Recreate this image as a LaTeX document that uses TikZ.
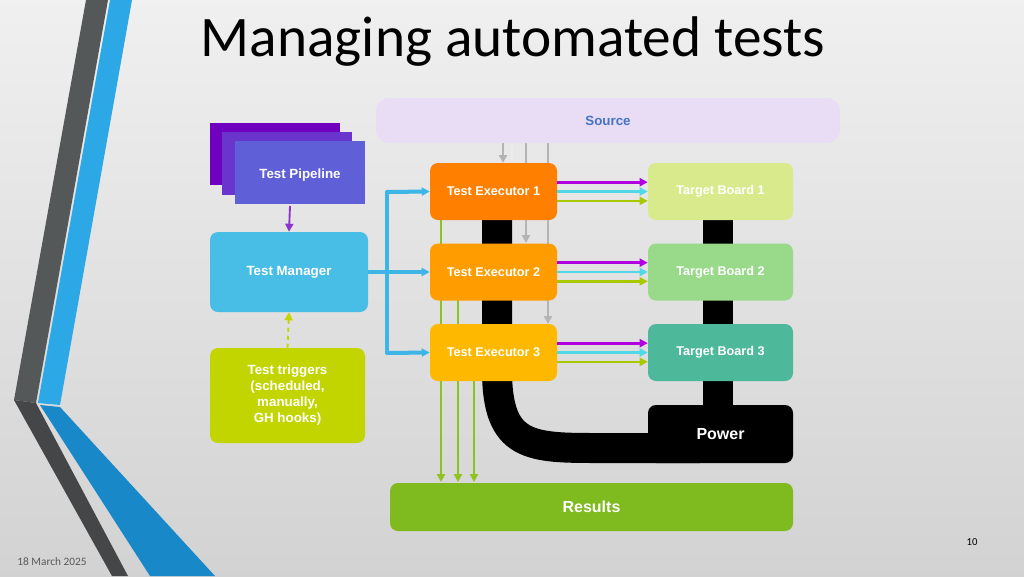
\documentclass[tikz,border=0pt]{standalone}
\usepackage{fontspec}
\setmainfont{Liberation Sans}
\newfontfamily\calib{Carlito}
\usetikzlibrary{arrows.meta}
\definecolor{srcfill}{HTML}{E8DDF5}
\definecolor{srctext}{HTML}{4472C4}
\definecolor{pipeA}{HTML}{7000C0}
\definecolor{pipeB}{HTML}{6A35CC}
\definecolor{pipeC}{HTML}{5F5FD8}
\definecolor{mgr}{HTML}{48BEE6}
\definecolor{trig}{HTML}{C2D500}
\definecolor{exA}{HTML}{FF8000}
\definecolor{exB}{HTML}{FF9C00}
\definecolor{exC}{HTML}{FFB800}
\definecolor{tbA}{HTML}{D9EA8C}
\definecolor{tbB}{HTML}{98D98A}
\definecolor{tbC}{HTML}{4DB89A}
\definecolor{res}{HTML}{7FBA1E}
\definecolor{arP}{HTML}{B000E0}
\definecolor{arC}{HTML}{50D8E8}
\definecolor{arG}{HTML}{A8C800}
\definecolor{arD}{HTML}{8DC21F}
\definecolor{arB}{HTML}{3DB5E6}
\definecolor{arS}{HTML}{B4B4B4}
\definecolor{stripeG}{HTML}{555859}
\definecolor{stripeB}{HTML}{2CA8E6}
\definecolor{stripeB2}{HTML}{1888C8}
\tikzset{
 box/.style={draw=none,rounded corners=6pt,text=white,font=\bfseries,align=center,inner sep=0pt},
 ex/.style={box,minimum width=127*0.75pt,minimum height=57*0.75pt,font=\bfseries\fontsize{9.5}{11}\selectfont},
 tb/.style={box,minimum width=145*0.75pt,minimum height=57*0.75pt,font=\bfseries\fontsize{9.5}{11}\selectfont},
 arr/.style={-{Triangle[length=6pt,width=6pt]},line width=2pt},
}
\begin{document}
\begin{tikzpicture}[x=0.75pt,y=-0.75pt]
\useasboundingbox (0,0) rectangle (1024,576);
\shade[top color=gray!12,bottom color=gray!35] (0,0) rectangle (1024,576);
% stripes
\fill[stripeG] (86,0) -- (108,0) -- (36,403) -- (14,400) -- cycle;
\fill[stripeB] (110,0) -- (132,0) -- (60,405) -- (38,403) -- cycle;
\fill[stripeG!80!black] (14,400) -- (36,403) -- (128,576) -- (112,576) -- cycle;
\fill[stripeB2] (40,405) -- (60,407) -- (215,576) -- (150,576) -- cycle;
% title
\node[font=\calib\fontsize{43}{46}\selectfont] (title) at (513,42) {Managing automated tests};
\node[font=\calib\fontsize{8.5}{10}\selectfont,text=gray!70!black] (date) at (52,562) {18 March 2025};
\node[font=\calib\fontsize{8}{9}\selectfont] (pg) at (972,542) {10};
% faint line
\draw[white!85!gray,line width=1.5pt] (512,88) -- (512,160);
% black power bus
\draw[black,line width=30*0.75pt] (497,220) -- (497,370) .. controls (497,448) and (530,448) .. (600,448) -- (700,448);
\draw[black,line width=30*0.75pt] (718,220) -- (718,420);
% source -> exec (behind nodes)
\coordinate (s1) at (503,143);
\coordinate (s2) at (526,143);
\coordinate (s3) at (548,143);
\draw[arr,arS] (s1) -- (503,163);
\draw[arr,arS] (s2) -- (526,243);
\draw[arr,arS] (s3) -- (548,324);
% exec -> results (behind nodes)
\draw[arr,arD] (441,220) -- (441,482);
\draw[arr,arD] (458,300) -- (458,482);
\draw[arr,arD] (474,381) -- (474,482);
% source
\node[box,fill=srcfill,minimum width=464*0.75pt,minimum height=45*0.75pt,rounded corners=10pt,text=srctext,font=\bfseries] (src) at (608,120.5) {Source};
% pipeline
\fill[pipeA] (210,123) rectangle (340,185);
\fill[pipeB] (222,132) rectangle (352,195);
\node[box,fill=pipeC,rounded corners=0pt,minimum width=130*0.75pt,minimum height=63*0.75pt,anchor=north west] (pipe) at (235,141) {};
\node[font=\bfseries,text=white] (pipet) at (300,175) {Test Pipeline};
\node[box,fill=mgr,minimum width=158*0.75pt,minimum height=80*0.75pt] (mgr) at (289,272) {Test Manager};
\node[box,fill=trig,minimum width=155*0.75pt,minimum height=95*0.75pt] (trig) at (287.5,395.5) {Test triggers\\(scheduled,\\manually,\\GH hooks)};
% executors & targets
\node[ex,fill=exA] (e1) at (493.5,191.5) {Test Executor 1};
\node[ex,fill=exB] (e2) at (493.5,272) {Test Executor 2};
\node[ex,fill=exC] (e3) at (493.5,352.5) {Test Executor 3};
\node[tb,fill=tbA] (t1) at (720.5,191.5) {Target Board 1};
\node[tb,fill=tbB] (t2) at (720.5,272) {Target Board 2};
\node[tb,fill=tbC] (t3) at (720.5,352.5) {Target Board 3};
\node[box,fill=black,minimum width=145*0.75pt,minimum height=58*0.75pt,font=\bfseries\large] (pw) at (720.5,434) {Power};
\node[box,fill=res,minimum width=403*0.75pt,minimum height=48*0.75pt,font=\bfseries\large] (res) at (591.5,507) {Results};
% pipeline -> manager
\draw[arr,pipeA!80!white,line width=1.4pt] (290,206) -- (mgr.north);
\draw[arr,trig,dashed,line width=1.4pt] (trig.north) -- (mgr.south);
% blue branch
\coordinate (bj) at (387,272);
\draw[arB,line width=3pt] (mgr.east) -- (bj);
\draw[arB,line width=3pt] (387,191) -- (387,354);
\draw[arr,arB,line width=3pt] (385.9,192) -- (e1.west);
\draw[arr,arB,line width=3pt] (bj) -- (e2.west);
\draw[arr,arB,line width=3pt] (385.9,353) -- (e3.west);
% exec -> target
\foreach \i in {1,2,3}{
 \draw[arr,arP] ([yshift=7pt]e\i.east) -- ([yshift=7pt]t\i.west);
 \draw[arr,arC] (e\i.east) -- (t\i.west);
 \draw[arr,arG] ([yshift=-7pt]e\i.east) -- ([yshift=-7pt]t\i.west);
}
\end{tikzpicture}
\end{document}
